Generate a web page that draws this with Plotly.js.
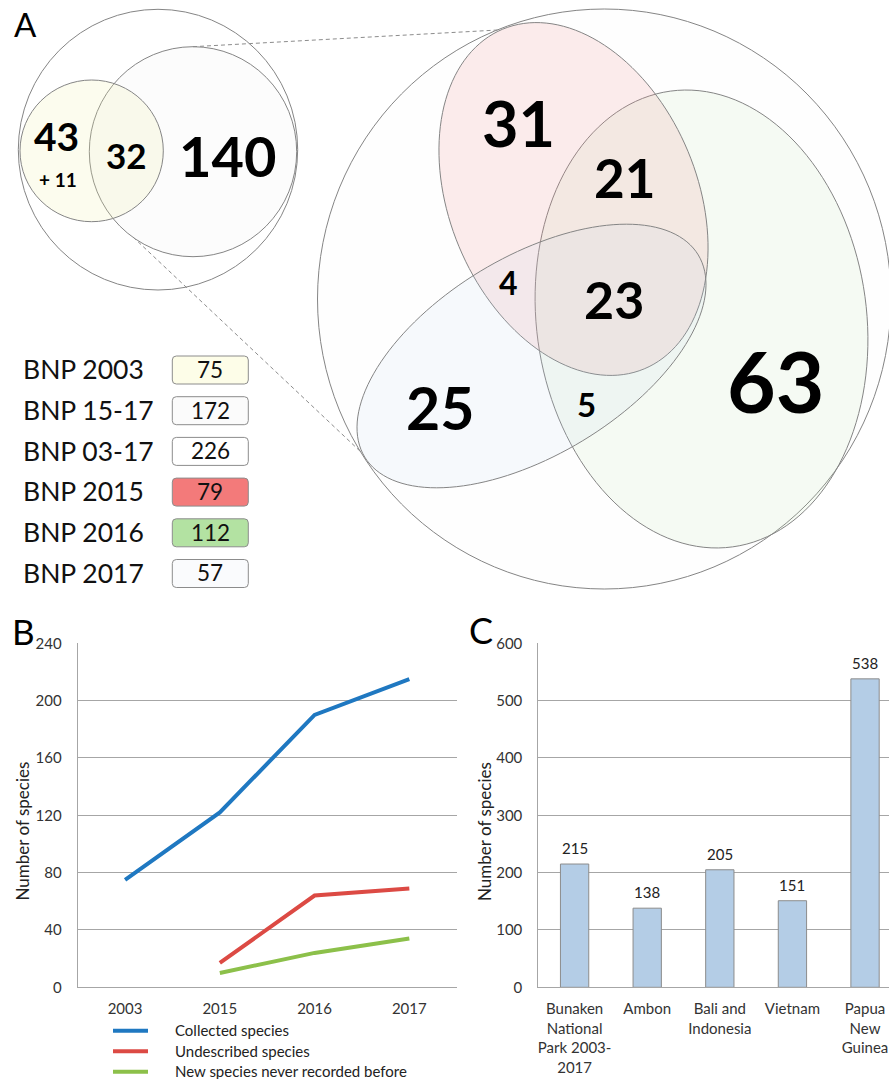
<!DOCTYPE html>
<html><head><meta charset="utf-8">
<script src="https://cdn.plot.ly/plotly-3.0.1.min.js"></script>
<style>html,body{margin:0;padding:0;background:#fff;}#chart{width:889px;height:1079px;}</style>
</head><body><div id="chart"></div>
<script>
// ---------------- DATA ----------------
const years = ['2003', '2015', '2016', '2017'];
const collectedSpecies = [75, 122, 190, 215];
const undescribedSpecies = [null, 17, 64, 69];
const newSpecies = [null, 10, 24, 34];
const lineSeriesNames = ['Collected species', 'Undescribed species', 'New species never recorded before'];

const regionLabels = ['Bunaken<br>National<br>Park 2003-<br>2017', 'Ambon', 'Bali and<br>Indonesia', 'Vietnam', 'Papua<br>New<br>Guinea'];
const regionSpecies = [215, 138, 205, 151, 538];

// Venn A (small): only 2003, shared 2003 & 15-17, only 15-17, extra
const vennSmallCounts = ['43', '32', '140'];
const vennSmallExtra = '+ 11';
// Venn A (large): only2015, 2015&2016, 2015&2017, all three, only2017, 2016&2017, only2016
const vennBigCounts = ['31', '21', '4', '23', '25', '5', '63'];

const setLabels = ['BNP 2003', 'BNP 15-17', 'BNP 03-17', 'BNP 2015', 'BNP 2016', 'BNP 2017'];
const setTotals = ['75', '172', '226', '79', '112', '57'];

// ---------------- LAYOUT GEOMETRY (pixels) ----------------
const W = 889, H = 1079;
const fx = v => v / W, fy = v => 1 - v / H;
const FONT = 'Lato, "Open Sans", sans-serif';
const GRID = '#a6a6a6';
const STROKE = '#858585';

function ellipsePath(cx, cy, a, b, deg) {
  const t = deg * Math.PI / 180; let d = '';
  for (let i = 0; i <= 144; i++) {
    const u = i / 144 * 2 * Math.PI;
    const x = cx + a * Math.cos(u) * Math.cos(t) - b * Math.sin(u) * Math.sin(t);
    const y = cy + a * Math.cos(u) * Math.sin(t) + b * Math.sin(u) * Math.cos(t);
    d += (i ? 'L' : 'M') + x.toFixed(2) + ',' + y.toFixed(2);
  }
  return d + 'Z';
}
function roundRect(x0, y0, x1, y1, r) {
  return `M${x0 + r},${y0}L${x1 - r},${y0}Q${x1},${y0} ${x1},${y0 + r}L${x1},${y1 - r}Q${x1},${y1} ${x1 - r},${y1}` +
    `L${x0 + r},${y1}Q${x0},${y1} ${x0},${y1 - r}L${x0},${y0 + r}Q${x0},${y0} ${x0 + r},${y0}Z`;
}

const shapes = [];
const pa = { xref: 'x3', yref: 'y3', layer: 'below' };
// small venn
shapes.push(Object.assign({ type: 'circle', x0: 18.3, x1: 297.7, y0: 9.3, y1: 290, fillcolor: 'rgba(0,0,0,0)', line: { color: STROKE, width: 1 } }, pa));
shapes.push(Object.assign({ type: 'circle', x0: 89.3, x1: 296.7, y0: 46.7, y1: 256.7, fillcolor: 'rgba(215,215,215,0.07)', line: { color: STROKE, width: 1 } }, pa));
shapes.push(Object.assign({ type: 'circle', x0: 20, x1: 163.3, y0: 80, y1: 221.7, fillcolor: 'rgba(240,240,170,0.2)', line: { color: STROKE, width: 1 } }, pa));
// big venn
shapes.push(Object.assign({ type: 'circle', x0: 317.5, x1: 891, y0: 9, y1: 589, fillcolor: 'rgba(230,230,230,0.05)', line: { color: STROKE, width: 1 } }, pa));
shapes.push(Object.assign({ type: 'path', path: ellipsePath(701.5, 319, 230, 165, 82.2), fillcolor: 'rgba(190,225,175,0.14)', line: { color: STROKE, width: 1 } }, pa));
shapes.push(Object.assign({ type: 'path', path: ellipsePath(573.5, 199, 184, 124, 67.4), fillcolor: 'rgba(240,140,140,0.17)', line: { color: STROKE, width: 1 } }, pa));
shapes.push(Object.assign({ type: 'path', path: ellipsePath(531.5, 356, 195, 99, -31.2), fillcolor: 'rgba(190,210,240,0.12)', line: { color: STROKE, width: 1 } }, pa));
// zoom connectors
shapes.push(Object.assign({ type: 'line', x0: 193, y0: 46.7, x1: 498, y1: 30, line: { color: '#8c8c8c', width: 1, dash: '4px,3px' } }, pa));
shapes.push(Object.assign({ type: 'line', x0: 133, y0: 237, x1: 362, y1: 453, line: { color: '#8c8c8c', width: 1, dash: '4px,3px' } }, pa));

// set legend boxes
const boxFills = ['#fdfde8', '#fbfbfb', '#ffffff', '#f37a7a', '#b3e2a2', '#fafbfd'];
const rowY = i => 370 + 40.7 * i;
setLabels.forEach((_, i) => {
  shapes.push(Object.assign({ type: 'path', path: roundRect(172.3, rowY(i) - 14, 248.3, rowY(i) + 14, 4), fillcolor: boxFills[i], line: { color: '#8c8c8c', width: 1 } }, pa));
});

const annotations = [];
function txt(x, y, text, size, opts) {
  annotations.push(Object.assign({ xref: 'x3', yref: 'y3', x: x, y: y - 0.03 * size, text: text, showarrow: false,
    xanchor: 'center', yanchor: 'middle', font: { family: FONT, size: size, color: '#000' } }, opts || {}));
}
// small venn numbers
const smallPos = [[56.7, 137.5, 39], [126, 156, 35], [227.5, 157, 56]];
vennSmallCounts.forEach((t, i) => txt(smallPos[i][0], smallPos[i][1], '<b>' + t + '</b>', smallPos[i][2]));
txt(57.5, 180, '<b>' + vennSmallExtra + '</b>', 19);
// big venn numbers
const bigPos = [[518, 124, 63], [624.5, 179, 53], [508.6, 283.5, 32], [614, 300.5, 52], [439.5, 409, 59], [586, 405, 33], [775, 383, 84]];
vennBigCounts.forEach((t, i) => txt(bigPos[i][0], bigPos[i][1], '<b>' + t + '</b>', bigPos[i][2]));
// set legend
setLabels.forEach((t, i) => {
  txt(20.5, rowY(i), t, 26.5, { xanchor: 'left', font: { family: FONT, size: 26.5, color: '#111' } });
  txt(210.3, rowY(i), setTotals[i], 22.5, { font: { family: FONT, size: 22.5, color: '#111' } });
});
// panel letters
txt(25, 25, 'A', 33, { font: { family: FONT, size: 33, color: '#000' } });
txt(23, 632.5, 'B', 35, { font: { family: FONT, size: 35, color: '#000' } });
txt(480.5, 631.5, 'C', 36, { font: { family: FONT, size: 36, color: '#000' } });
// axis titles
txt(22, 832, 'Number of species', 17, { textangle: -90, font: { family: FONT, size: 17, color: '#222' } });
txt(484.5, 832, 'Number of species', 17, { textangle: -90, font: { family: FONT, size: 17, color: '#222' } });

// line legend (panel B)
const lineColors = ['#1f78c1', '#dc4a44', '#8cc04a'];
lineSeriesNames.forEach((n, i) => {
  const y = 1030.7 + 20.5 * i;
  shapes.push(Object.assign({ type: 'line', x0: 113, x1: 148, y0: y, y1: y, line: { color: lineColors[i], width: 4 } }, pa));
  txt(173, y, n, 15, { xanchor: 'left', font: { family: FONT, size: 15, color: '#222' } });
});

// data labels on last points (panel B)
[collectedSpecies, undescribedSpecies, newSpecies].forEach(arr => {
  annotations.push({ xref: 'x', yref: 'y', x: years[years.length - 1], y: arr[arr.length - 1], text: String(arr[arr.length - 1]),
    showarrow: false, xanchor: 'left', yanchor: 'middle', xshift: 12, font: { family: FONT, size: 15, color: '#222' } });
});
// bar labels (panel C)
regionLabels.forEach((r, i) => {
  annotations.push({ xref: 'x2', yref: 'y2', x: i, y: regionSpecies[i], text: String(regionSpecies[i]),
    showarrow: false, xanchor: 'center', yanchor: 'bottom', yshift: 5, font: { family: FONT, size: 15, color: '#222' } });
});

const traces = [
  { type: 'scatter', mode: 'lines', name: lineSeriesNames[0], x: years, y: collectedSpecies, line: { color: lineColors[0], width: 4 }, xaxis: 'x', yaxis: 'y' },
  { type: 'scatter', mode: 'lines', name: lineSeriesNames[1], x: years, y: undescribedSpecies, line: { color: lineColors[1], width: 4 }, xaxis: 'x', yaxis: 'y' },
  { type: 'scatter', mode: 'lines', name: lineSeriesNames[2], x: years, y: newSpecies, line: { color: lineColors[2], width: 4 }, xaxis: 'x', yaxis: 'y' },
  { type: 'bar', name: 'Number of species', x: [0, 1, 2, 3, 4], y: regionSpecies, width: 0.39,
    marker: { color: '#b4cde6', line: { color: '#8c8c8c', width: 1 } }, xaxis: 'x2', yaxis: 'y2' }
];

const tickFont = { family: FONT, size: 15, color: '#333' };
const yDom = [fy(987.3), fy(643.3)];
const layout = {
  width: W, height: H, margin: { l: 0, r: 0, t: 0, b: 0 }, showlegend: false,
  paper_bgcolor: '#fff', plot_bgcolor: 'rgba(0,0,0,0)',
  font: { family: FONT },
  xaxis: { domain: [fx(77.7), fx(456.7)], anchor: 'y', type: 'category', range: [-0.5, 3.5], showgrid: false,
    showline: true, linecolor: GRID, linewidth: 1, ticks: '', tickfont: tickFont, ticklabelstandoff: 8, fixedrange: true },
  yaxis: { domain: yDom, anchor: 'x', range: [0, 240], dtick: 40, tick0: 0, showgrid: true, gridcolor: GRID, gridwidth: 1,
    showline: true, linecolor: GRID, zeroline: false, ticks: '', tickfont: tickFont, ticklabelstandoff: 12, fixedrange: true },
  xaxis2: { domain: [fx(538.3), 1], anchor: 'y2', range: [-0.5, 4.33], showgrid: false, showline: true, linecolor: GRID,
    tickmode: 'array', tickvals: [0, 1, 2, 3, 4], ticktext: regionLabels, ticks: '', tickfont: tickFont, ticklabelstandoff: 8,
    ticklabeloverflow: 'allow', fixedrange: true },
  yaxis2: { domain: yDom, anchor: 'x2', range: [0, 600], dtick: 100, tick0: 0, showgrid: true, gridcolor: GRID, gridwidth: 1,
    showline: true, linecolor: GRID, zeroline: false, ticks: '', tickfont: tickFont, ticklabelstandoff: 12, fixedrange: true },
  xaxis3: { domain: [0, 1], anchor: 'y3', range: [0, W], visible: false, fixedrange: true },
  yaxis3: { domain: [0, 1], anchor: 'x3', range: [H, 0], visible: false, fixedrange: true },
  shapes: shapes, annotations: annotations
};
Plotly.newPlot('chart', traces, layout, { staticPlot: true, displayModeBar: false });
</script></body></html>
